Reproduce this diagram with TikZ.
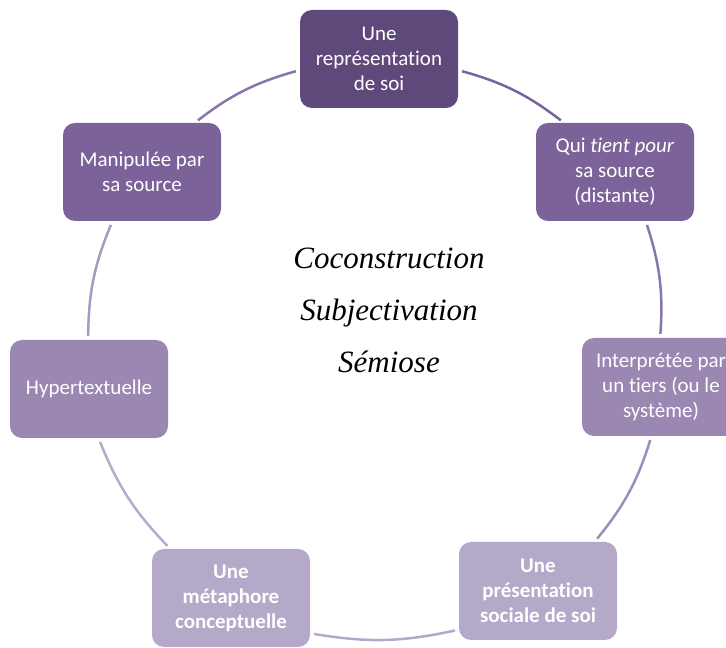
\documentclass[tikz,border=0pt]{standalone}
\usepackage{fontspec}
\setmainfont[Ligatures=NoCommon]{Carlito}
\newfontfamily\serifit{Liberation Serif}
\definecolor{cA}{HTML}{5F497A}
\definecolor{cB}{HTML}{7B6299}
\definecolor{cC}{HTML}{9A87B2}
\definecolor{cD}{HTML}{B4A9C9}
\definecolor{eA}{HTML}{7862A0}
\definecolor{eB}{HTML}{8A76AD}
\definecolor{eC}{HTML}{9D8DBB}
\definecolor{eD}{HTML}{B3A8CA}
\definecolor{eE}{HTML}{B6ACCC}
\definecolor{eF}{HTML}{A899C3}
\definecolor{eG}{HTML}{8A74AB}
\tikzset{
  box/.style={rectangle, rounded corners=12pt, minimum width=158pt, minimum height=98pt,
    inner sep=0pt, align=center, text=white, font=\fontsize{21}{25}\selectfont},
  link/.style={line width=2.5pt, shorten <=4pt, shorten >=4pt, bend left=11},
  centertext/.style={anchor=base, font=\serifit\itshape\fontsize{31}{36}\selectfont, inner sep=0pt}
}
\begin{document}
\begin{tikzpicture}[x=1pt,y=1pt]
\useasboundingbox (0,0) rectangle (726,648);
\clip (0,0) rectangle (726,648);
\node[box, fill=cA] (top) at (379,589) {Une\\représentation\\de soi};
\node[box, fill=cB] (qui) at (615,476) {Qui \textit{tient pour}\\sa source\\(distante)};
\node[box, fill=cC] (interp) at (661,261) {Interprétée par\\un tiers (ou le\\système)};
\node[box, fill=cD] (pres) at (538,57) {\bfseries Une\\\bfseries présentation\\\bfseries sociale de soi};
\node[box, fill=cD] (meta) at (231,50) {\bfseries Une\\\bfseries métaphore\\\bfseries conceptuelle};
\node[box, fill=cC] (hyper) at (89,259) {Hypertextuelle};
\node[box, fill=cB] (manip) at (142,476) {Manipulée par\\sa source};
\draw[link, eA] (top.-8.3) to (qui.136.5);
\draw[link, eB] (qui.-58.3) to (interp.91);
\draw[link, eC] (interp.-101.3) to (pres.41);
\draw[link, eD] (pres.206.3) to (meta.-24.1);
\draw[link, eE] (meta.141.7) to (hyper.-79.1);
\draw[link, eF] (hyper.91) to (manip.-121.6);
\draw[link, eG] (manip.43.4) to (top.188.2);
\node[centertext] (t1) at (389,379) {Coconstruction};
\node[centertext] (t2) at (389,327) {Subjectivation};
\node[centertext] (t3) at (389,275) {Sémiose};
\end{tikzpicture}
\end{document}
